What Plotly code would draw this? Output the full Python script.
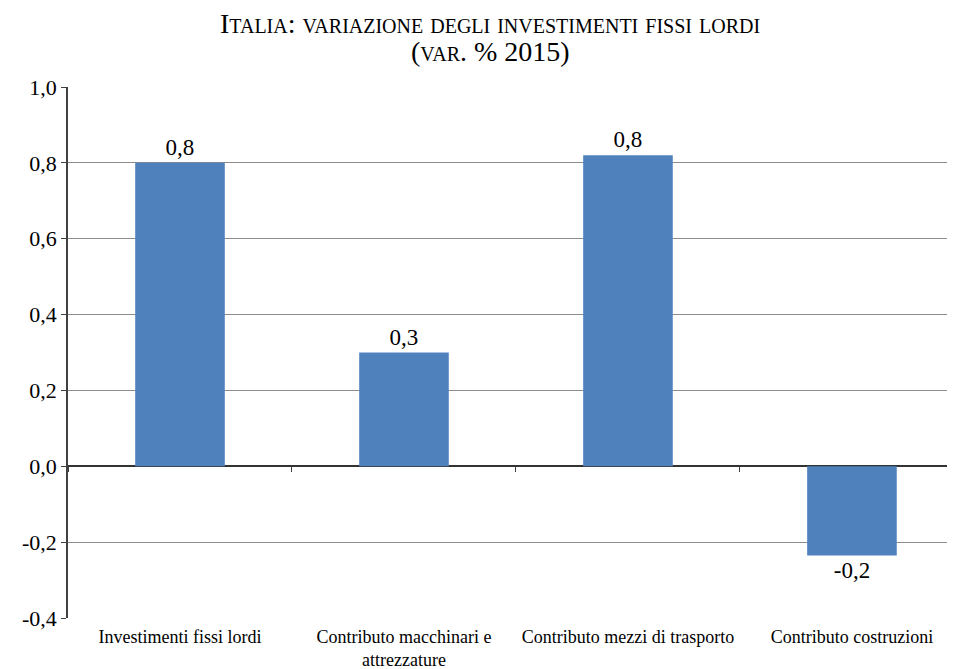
import plotly.graph_objects as go

categories = ["Investimenti fissi lordi", "Contributo macchinari e<br>attrezzature",
              "Contributo mezzi di trasporto", "Contributo costruzioni"]
values = [0.80, 0.30, 0.82, -0.235]
labels = [f"{v:.1f}".replace(".", ",") for v in values]
tick_vals = [-0.4, -0.2, 0.0, 0.2, 0.4, 0.6, 0.8, 1.0]
tick_text = [f"{v:.1f}".replace(".", ",") for v in tick_vals]
title_lines = ["Italia: variazione degli investimenti fissi lordi", "(var. % 2015)"]

serif = "'Liberation Serif', 'Times New Roman', Tinos, 'DejaVu Serif', serif"

fig = go.Figure()
fig.add_trace(go.Bar(
    x=categories, y=values, text=labels, textposition="outside",
    marker=dict(color="#4F81BD", line=dict(width=0)),
    textfont=dict(family=serif, size=23, color="#000000"),
    cliponaxis=False,
))
# invisible trace to carry the category tick marks on the zero line
fig.add_trace(go.Bar(x=categories, y=[None] * len(categories), xaxis="x2",
                     showlegend=False, hoverinfo="skip"))

for txt, yy in zip(title_lines, [1.119, 1.066]):
    fig.add_annotation(
        text=txt, x=0.476, y=yy, xref="paper", yref="paper",
        xanchor="center", yanchor="middle", showarrow=False,
        font=dict(family=serif, size=28, color="#000000", variant="small-caps"),
    )

fig.update_layout(
    width=947, height=661,
    margin=dict(l=60, r=0, t=79, b=51),
    paper_bgcolor="white", plot_bgcolor="white",
    bargap=0.6, showlegend=False,
    font=dict(family=serif),
    xaxis=dict(
        range=[-0.5, 3.46], showgrid=False, showline=False, ticks="",
        automargin=False, ticklabelstandoff=6,
        tickfont=dict(family=serif, size=18, color="#000000"),
    ),
    xaxis2=dict(
        range=[-0.5, 3.46], overlaying="x", anchor="free", position=0.4 / 1.4,
        showgrid=False, showline=False, showticklabels=False,
        ticks="outside", tickson="boundaries", ticklen=5, tickcolor="#404040",
        automargin=False,
    ),
    yaxis=dict(
        range=[-0.4, 1.0], tickvals=tick_vals, ticktext=tick_text,
        showgrid=True, gridcolor="#8c8c8c", gridwidth=1,
        zeroline=True, zerolinecolor="#333333", zerolinewidth=1.5,
        showline=True, linecolor="#404040", linewidth=1.5,
        ticks="outside", ticklen=5, tickcolor="#404040",
        automargin=False,
        tickfont=dict(family=serif, size=22, color="#000000"),
    ),
)
fig.write_html("out.html")
